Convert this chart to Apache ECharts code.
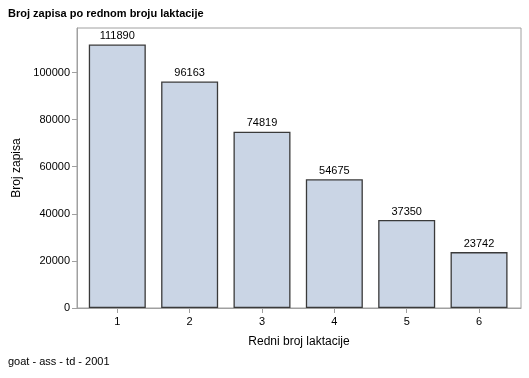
<!DOCTYPE html>
<html>
<head>
<meta charset="utf-8">
<script src="https://cdn.jsdelivr.net/npm/echarts@6/dist/echarts.min.js"></script>
<style>
  html, body { margin: 0; padding: 0; background: #fff; }
  #chart { width: 529px; height: 378px; }
</style>
</head>
<body>
<div id="chart"></div>
<script>
var lactations = [1, 2, 3, 4, 5, 6]
var recordCounts = [111890, 96163, 74819, 54675, 37350, 23742]
var yTicks = [0, 20000, 40000, 60000, 80000, 100000]

var chart = echarts.init(document.getElementById('chart'), null, { renderer: 'canvas' })
var font = 'Liberation Sans, Arial, sans-serif'

chart.setOption({
  animation: false,
  backgroundColor: '#fff',
  textStyle: { fontFamily: font },
  title: [{
    text: 'Broj zapisa po rednom broju laktacije',
    left: 8,
    top: 8,
    padding: 0,
    textStyle: { fontSize: 11, fontWeight: 'bold', color: '#000', fontFamily: font }
  }, {
    text: 'goat - ass - td - 2001',
    left: 8,
    top: 356,
    padding: 0,
    textStyle: { fontSize: 11, fontWeight: 'normal', color: '#000', fontFamily: font }
  }],
  grid: {
    left: 77,
    right: 8,
    top: 28,
    bottom: 70,
    show: true,
    borderColor: '#a0a0a0',
    borderWidth: 1
  },
  xAxis: {
    type: 'value',
    min: 0.443,
    max: 6.58,
    name: 'Redni broj laktacije',
    nameLocation: 'middle',
    nameGap: 28,
    nameTextStyle: { fontSize: 12, color: '#000', fontFamily: font },
    splitLine: { show: false },
    axisLine: { show: true, lineStyle: { color: '#a0a0a0' } },
    axisTick: { show: true, customValues: lactations, length: 5, lineStyle: { color: '#a0a0a0' } },
    axisLabel: { customValues: lactations, fontSize: 11, color: '#000', margin: 8, fontFamily: font }
  },
  yAxis: {
    type: 'value',
    min: 0,
    max: 118900,
    interval: 20000,
    name: 'Broj zapisa',
    nameLocation: 'middle',
    nameGap: 53,
    nameTextStyle: { fontSize: 12, color: '#000', fontFamily: font },
    splitLine: { show: false },
    axisLine: { show: true, lineStyle: { color: '#a0a0a0' } },
    axisTick: { show: true, length: 5, lineStyle: { color: '#a0a0a0' } },
    axisLabel: {
      fontSize: 11, color: '#000', margin: 7, fontFamily: font,
      showMaxLabel: false,
      formatter: function(v) { return yTicks.indexOf(v) >= 0 ? String(v) : '' }
    }
  },
  series: [{
    type: 'bar',
    barWidth: 57,
    data: lactations.map(function(l, i) { return [l, recordCounts[i]] }),
    itemStyle: { color: '#cad5e5', borderColor: '#3a3a3a', borderWidth: 1.3 },
    label: {
      show: true,
      position: 'top',
      distance: 3,
      fontSize: 11,
      color: '#000',
      fontFamily: font,
      formatter: function(p) { return p.value[1] }
    }
  }]
})
</script>
</body>
</html>
